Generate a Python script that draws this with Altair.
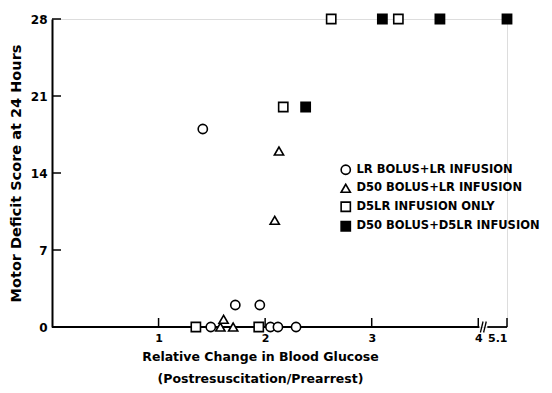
import altair as alt
import pandas as pd

# ---- data ----
groups = ["LR BOLUS+LR INFUSION", "D50 BOLUS+LR INFUSION",
          "D5LR INFUSION ONLY", "D50 BOLUS+D5LR INFUSION"]

lr_x = [1.49, 1.72, 1.95, 2.05, 2.12, 2.29, 1.415]
lr_y = [0, 2, 2, 0, 0, 0, 18]

d50lr_x = [1.58, 1.61, 1.70, 2.13, 2.09]
d50lr_y = [0, 0.7, 0, 16, 9.7]

d5lr_x = [1.35, 1.94, 2.17, 2.62, 3.25]
d5lr_y = [0, 0, 20, 28, 28]

d50d5_x = [2.38, 3.10, 3.64, 5.1]
d50d5_y = [20, 28, 28, 28]

x_ticks = [1, 2, 3, 4, 5.1]
y_ticks = [0, 7, 14, 21, 28]

BREAK_AT = 4.0
BREAK_SCALE = 0.245  # compression of the axis beyond the break


def pos(v):
    return v if v <= BREAK_AT else BREAK_AT + (v - BREAK_AT) * BREAK_SCALE


rows = []
for g, xs, ys in zip(groups, [lr_x, d50lr_x, d5lr_x, d50d5_x],
                     [lr_y, d50lr_y, d5lr_y, d50d5_y]):
    for xv, yv in zip(xs, ys):
        rows.append({"group": g, "x": xv, "xp": pos(xv), "y": yv})
df = pd.DataFrame(rows)

xt = pd.DataFrame({"v": x_ticks, "p": [pos(v) for v in x_ticks]})
yt = pd.DataFrame({"v": y_ticks})
x_max = pos(max(x_ticks))

W, H = 455, 308
FONT = "DejaVu Sans"

xscale = alt.Scale(domain=[0, x_max], nice=False, zero=False)
yscale = alt.Scale(domain=[0, 28], nice=False)

label_map = "{" + ",".join(f"'{pos(v):.4f}':'{v:g}'" for v in x_ticks) + "}"

legend = alt.Legend(title=None, orient="none", legendX=288, legendY=145,
                    labelFont=FONT, labelFontSize=11.5, labelFontWeight="bold",
                    labelColor="black", labelLimit=0,
                    symbolSize=85, symbolStrokeWidth=1.6,
                    rowPadding=2.5, labelOffset=5)

points = alt.Chart(df).mark_point(
    strokeWidth=1.6, opacity=1, size=85, filled=False
).encode(
    x=alt.X("xp:Q", scale=xscale,
            axis=alt.Axis(values=[pos(v) for v in x_ticks],
                          labelExpr=f"{label_map}[format(datum.value, '.4f')]",
                          domain=False, ticks=False, grid=False,
                          labelPadding=5, labelFontSize=11, labelFont=FONT,
                          labelFontWeight="bold", labelColor="black",
                          title=["Relative Change in Blood Glucose",
                                 "(Postresuscitation/Prearrest)"],
                          titleX=208, titleY=23, titleLineHeight=22,
                          titleFont=FONT, titleFontSize=12.5,
                          titleFontWeight="bold", titleColor="black")),
    y=alt.Y("y:Q", scale=yscale,
            axis=alt.Axis(values=y_ticks, domain=True, domainColor="black",
                          domainWidth=2, ticks=False, grid=False,
                          labelPadding=5, labelFontSize=12, labelFont=FONT,
                          labelFontWeight="bold", labelColor="black",
                          title="Motor Deficit Score at 24 Hours",
                          titleX=-29, titleFont=FONT, titleFontSize=14.5,
                          titleFontWeight="bold", titleColor="black")),
    shape=alt.Shape("group:N", scale=alt.Scale(
        domain=groups, range=["circle", "triangle-up", "square", "square"]),
        legend=legend),
    fill=alt.Fill("group:N", scale=alt.Scale(
        domain=groups, range=["white", "white", "white", "black"]),
        legend=legend),
    stroke=alt.Stroke("group:N", scale=alt.Scale(
        domain=groups, range=["black", "black", "black", "black"]),
        legend=legend),
)

# inward tick marks
yticks = alt.Chart(yt).mark_rule(color="black", strokeWidth=1.5).encode(
    y=alt.Y("v:Q", scale=yscale), x=alt.value(0), x2=alt.value(9))
xticks = alt.Chart(xt).mark_rule(color="black", strokeWidth=1.5).encode(
    x=alt.X("p:Q", scale=xscale), y=alt.value(H), y2=alt.value(H - 9))

# broken x axis line
seg = pd.DataFrame({"a": [0, BREAK_AT + 0.085], "b": [BREAK_AT + 0.01, x_max],
                    "y": [0, 0]})
xline = alt.Chart(seg).mark_rule(color="black", strokeWidth=1.8).encode(
    x=alt.X("a:Q", scale=xscale), x2="b:Q", y=alt.Y("y:Q", scale=yscale))

slash = pd.DataFrame({"a": [BREAK_AT + 0.02, BREAK_AT + 0.05],
                      "b": [BREAK_AT + 0.045, BREAK_AT + 0.075],
                      "y1": [-0.5, -0.5], "y2": [0.5, 0.5]})
slashes = alt.Chart(slash).mark_rule(color="black", strokeWidth=1.3).encode(
    x=alt.X("a:Q", scale=xscale), x2="b:Q",
    y=alt.Y("y1:Q", scale=yscale), y2="y2:Q")

chart = alt.layer(xline, slashes, yticks, xticks, points).properties(
    width=W, height=H,
    autosize=alt.AutoSizeParams(type="none"),
    padding={"left": 44, "top": 11, "right": 37, "bottom": 58},
).configure_view(stroke=None).configure(background="white")

chart.save("out.html", embed_options={"renderer": "svg", "actions": False})
